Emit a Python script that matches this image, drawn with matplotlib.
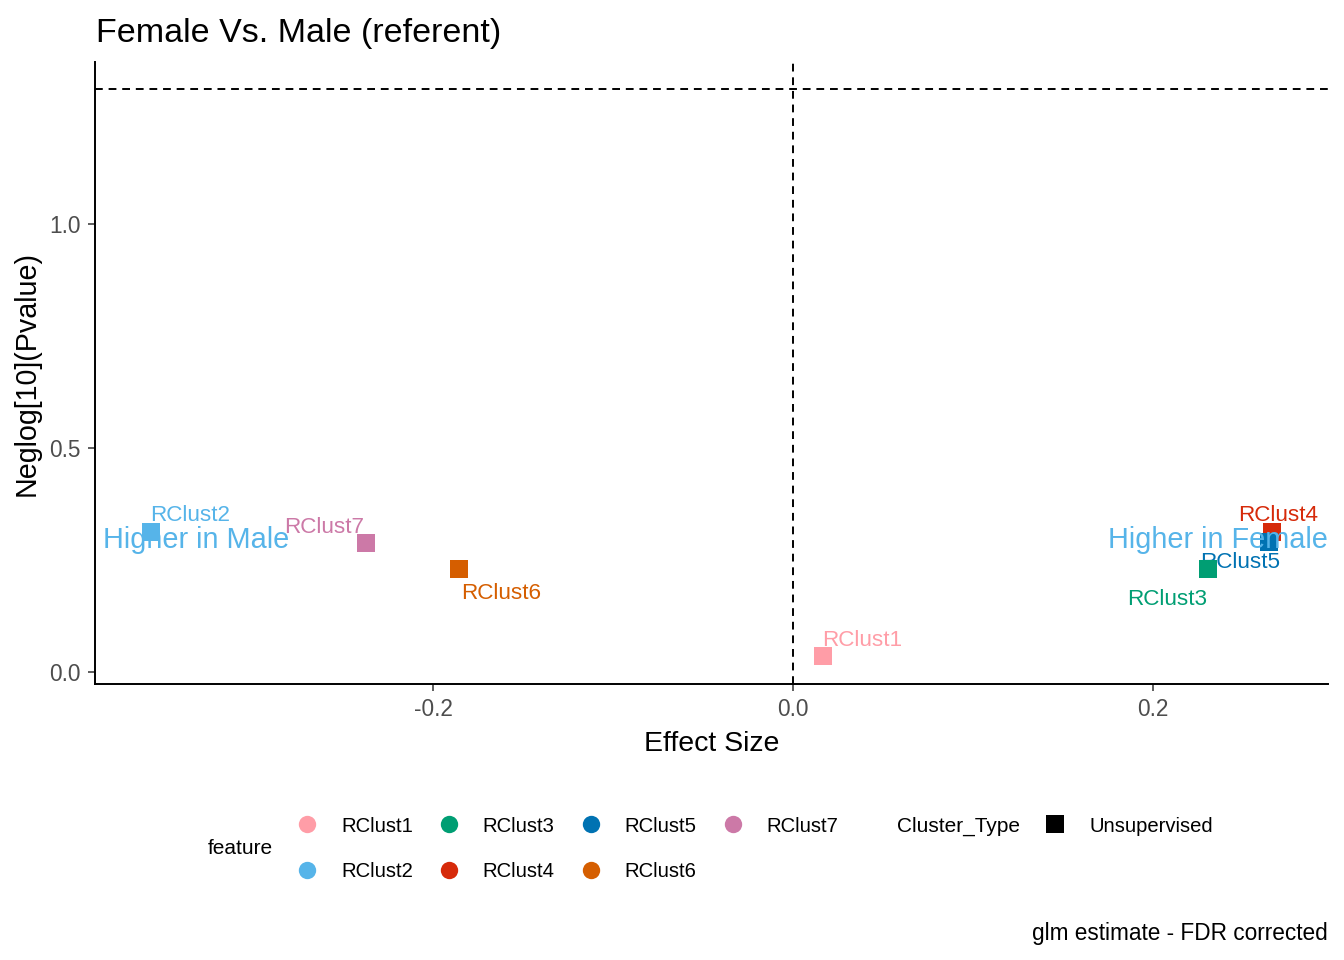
import numpy as np
import matplotlib
matplotlib.use("Agg")
import matplotlib.pyplot as plt
from matplotlib.lines import Line2D

plt.rcParams['font.family'] = ['Liberation Sans', 'DejaVu Sans']

# data
features = ['RClust1', 'RClust2', 'RClust3', 'RClust4', 'RClust5', 'RClust6', 'RClust7']
effect_size = [0.0167, -0.3569, 0.2303, 0.2661, 0.2647, -0.1853, -0.2372]
neglog_p = [0.0346, 0.3114, 0.2310, 0.3114, 0.2891, 0.2310, 0.2879]
cluster_type = 'Unsupervised'
fdr_cut = 0.05

feature_colors = ['#FF9DA7', '#56B4E9', '#009E73', '#D62A0A', '#0072B2', '#D55E00', '#CC79A7']

# label offsets (points) from each square, like the repelled labels
label_offsets = {
    'RClust1': (28.0, 13.3),
    'RClust2': (28.8, 14.0),
    'RClust3': (-29.2, -20.2),
    'RClust4': (4.7, 13.7),
    'RClust5': (-21.2, -12.6),
    'RClust6': (29.9, -16.2),
    'RClust7': (-30.2, 13.0),
}

side_text_x = [-0.3317, 0.2361]
side_text_y = 0.3013
side_texts = ['Higher in Male', 'Higher in Female']

W, H = 1344, 960
fig = plt.figure(figsize=(W / 100, H / 100), dpi=100)
ax = fig.add_axes([95 / W, 1 - 684 / H, (1328 - 95) / W, (684 - 62) / H])

# reference lines
ax.axhline(-np.log10(fdr_cut), color='black', lw=1.4, linestyle=(0, (4, 3)), zorder=1)
ax.axvline(0.0, color='black', lw=1.4, linestyle=(0, (4, 3)), zorder=1)

for name, xv, yv, col in zip(features, effect_size, neglog_p, feature_colors):
    ax.annotate(name, (xv, yv), xytext=label_offsets[name], textcoords='offset points',
                ha='center', va='center_baseline', fontsize=16.2, color=col, zorder=2)
    ax.scatter([xv], [yv], marker='s', s=13.2 ** 2, color=col, linewidths=0, zorder=3)

for tx, t in zip(side_text_x, side_texts):
    ax.text(tx, side_text_y, t, ha='center', va='center_baseline', fontsize=20.8,
            color='#56B4E9', zorder=4)

ax.set_xlim(-0.38778, 0.29722)
ax.set_ylim(-0.02679, 1.3616)
ax.set_xticks([-0.2, 0.0, 0.2])
ax.set_yticks([0.0, 0.5, 1.0])
ax.set_xticklabels(['-0.2', '0.0', '0.2'])
ax.set_yticklabels(['0.0', '0.5', '1.0'])

for s in ['top', 'right']:
    ax.spines[s].set_visible(False)
for s in ['left', 'bottom']:
    ax.spines[s].set_linewidth(1.4)
ax.tick_params(length=5, width=1.1, color='#333333', labelcolor='#4D4D4D',
               labelsize=16.3, pad=5)

ax.set_xlabel('Effect Size', fontsize=20.5, labelpad=7.5)
ax.set_ylabel('Neglog[10](Pvalue)', fontsize=20.6, labelpad=6.5)

fig.text(96 / W, 1 - 42 / H, 'Female Vs. Male (referent)', fontsize=24.5,
         ha='left', va='baseline')
fig.text(1328 / W, 1 - 940 / H, 'glm estimate - FDR corrected', fontsize=16.3,
         ha='right', va='baseline')

# legends
feat_handles = [Line2D([], [], marker='o', linestyle='', markersize=12.5,
                       markerfacecolor=c, markeredgewidth=0) for c in feature_colors]
fig.legend(feat_handles, features, ncol=4, loc='upper left',
           bbox_to_anchor=(297 / W, 1 - 816.5 / H), frameon=False, fontsize=14.6,
           handlelength=1.0, handletextpad=1.17, columnspacing=1.28,
           labelspacing=1.33, borderpad=0, borderaxespad=0)
fig.text(240 / W, 1 - 849 / H, 'feature', fontsize=15, ha='center', va='center')

type_handle = [Line2D([], [], marker='s', linestyle='', markersize=13.5,
                      markerfacecolor='black', markeredgewidth=0)]
fig.legend(type_handle, [cluster_type], loc='upper left',
           bbox_to_anchor=(1045 / W, 1 - 816.5 / H), frameon=False, fontsize=14.6,
           handlelength=1.0, handletextpad=1.17, borderpad=0, borderaxespad=0)
fig.text(897 / W, 1 - 826 / H, 'Cluster_Type', fontsize=15, ha='left', va='center')

fig.savefig('out.png', dpi=100)
